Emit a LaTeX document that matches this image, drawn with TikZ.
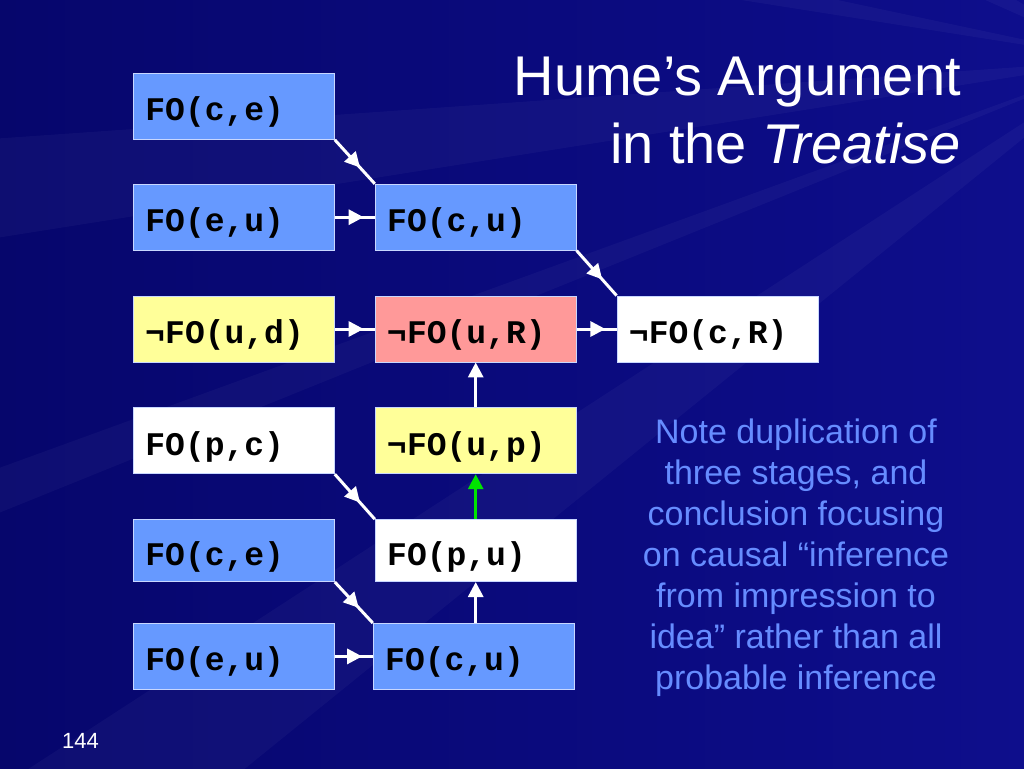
\documentclass[tikz,border=0pt]{standalone}
\usepackage{fontspec}
\setmainfont{Liberation Sans}
\newfontfamily\boxfont{Liberation Mono}
\usetikzlibrary{positioning, arrows.meta, decorations.markings}
\definecolor{slidebg}{RGB}{14,14,140}
\definecolor{slidedark}{RGB}{6,6,108}
\definecolor{boxblue}{RGB}{102,153,255}
\definecolor{boxyellow}{RGB}{255,255,153}
\definecolor{boxpink}{RGB}{255,153,153}
\definecolor{noteblue}{RGB}{102,140,255}
\definecolor{rimcol}{RGB}{200,215,255}
\tikzset{
  base/.style = {
    draw=rimcol, line width=0.8pt, minimum height=66pt, minimum width=201pt,
    text width=177pt, inner xsep=12pt, inner ysep=0pt, align=left,
    text height=36pt, text depth=7pt,
    font=\boxfont\bfseries\fontsize{33}{38}\selectfont, text=black
  },
  blue/.style = {base, fill=boxblue},
  yellow/.style = {base, fill=boxyellow},
  pink/.style = {base, fill=boxpink},
  plain/.style = {base, fill=white},
  link/.style = {
    white, line width=3pt, postaction={decorate},
    decoration={markings, mark=at position #1 with
      {\arrow{Triangle[length=15pt,width=15pt]}}}
  },
  link/.default = 0.72,
  uplink/.style = {
    white, line width=3pt, -{Triangle[length=15pt,width=15pt]}
  }
}

\begin{document}
\begin{tikzpicture}[x=1pt, y=1pt, node distance = 45pt and 40pt]

  % background
  \useasboundingbox (0,0) rectangle (1024,-768);
  \begin{scope}
    \clip (0,0) rectangle (1024,-768);
    \fill[left color=slidedark, right color=slidebg] (0,0) rectangle (1024,-768);
    \foreach \a/\b in {150/156, 168/171, 184/189, 200/202, 213/219}
      \fill[white, opacity=0.035] (1120,-60) -- ++(\a:1400) arc[start angle=\a, end angle=\b, radius=1400] -- cycle;
  \end{scope}

  % title and notes
  \node[anchor=base east, text=white, font=\fontsize{56}{68}\selectfont, inner sep=0pt] (title) at (961,-95) {Hume’s Argument};
  \node[anchor=base east, text=white, font=\fontsize{56}{68}\selectfont, inner sep=0pt] (subtitle) at (961,-163) {in the \textit{Treatise}};
  \node[anchor=north, text=noteblue, align=center, font=\fontsize{34}{41}\selectfont, inner sep=0pt] (note) at (796,-419)
    {Note duplication of\\three stages, and\\conclusion focusing\\on causal “inference\\from impression to\\idea” rather than all\\probable inference};
  \node[anchor=base west, text=white, font=\fontsize{22}{26}\selectfont, inner sep=0pt] (page) at (62,-748) {144};

  % first column
  \node[blue, anchor=north west] (ce) at (133,-73) {FO(c,e)};
  \node[blue, below=44pt of ce] (eu) {FO(e,u)};
  \node[yellow, below=of eu] (ud) {¬FO(u,d)};
  \node[plain, below=of ud] (pc) {FO(p,c)};
  \node[blue, below=of pc, minimum height=62pt] (ce2) {FO(c,e)};
  \node[blue, below=41pt of ce2] (eu2) {FO(e,u)};

  % second column
  \node[blue, right=of eu] (cu) {FO(c,u)};
  \node[pink, right=of ud] (uR) {¬FO(u,R)};
  \node[yellow, right=of pc] (up) {¬FO(u,p)};
  \node[plain, right=of ce2, minimum height=62pt] (pu) {FO(p,u)};
  \node[blue, right=38pt of eu2] (cu2) {FO(c,u)};

  % conclusion
  \node[plain, right=of uR] (cR) {¬FO(c,R)};

  % arrows
  \draw[link=0.63] (ce.south east) -- (cu.north west);
  \draw[link] (eu) -- (cu);
  \draw[link=0.64] (cu.south east) -- (cR.north west);
  \draw[link] (ud) -- (uR);
  \draw[link] (uR) -- (cR);
  \draw[uplink] (up) -- (uR);
  \draw[link=0.63] (pc.south east) -- (pu.north west);
  \draw[uplink, green!90!black] (pu) -- (up);
  \draw[link=0.63] (ce2.south east) -- (cu2.north west);
  \draw[link] (eu2) -- (cu2);
  \draw[uplink] (cu2.north -| pu) -- (pu);

\end{tikzpicture}
\end{document}
